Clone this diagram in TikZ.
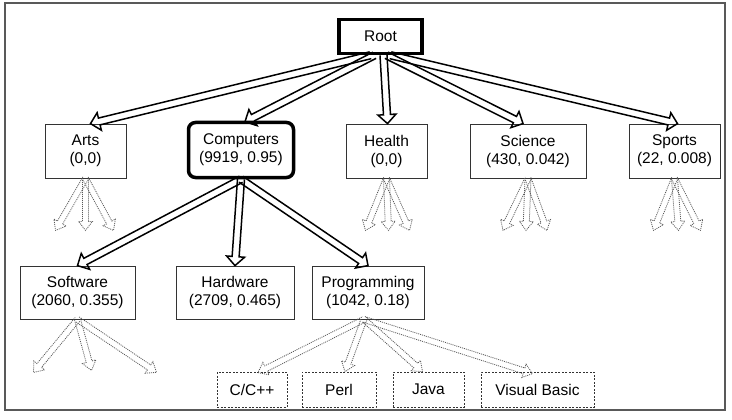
\documentclass[tikz,border=0pt]{standalone}
\usepackage{fontspec}
\setmainfont{Liberation Sans}
\usetikzlibrary{calc}
% block arrow: #1 style, #2 shaft half width, #3 head half width, #4 head length, #5 tail, #6 tip
\newcommand\barrow[6]{%
  \draw[#1] ($(#5)!#2!90:(#6)$) -- ($(#6)!#4!(#5)!#2!-90:(#5)$) -- ($(#6)!#4!(#5)!#3!-90:(#5)$)
    -- (#6) -- ($(#6)!#4!(#5)!#3!90:(#5)$) -- ($(#6)!#4!(#5)!#2!90:(#5)$) -- ($(#5)!#2!-90:(#6)$);}
\tikzset{
  box/.style={draw=black!80, line width=0.8pt, align=center, inner sep=0pt,
    font=\fontsize{15.5}{18}\selectfont},
  thickbox/.style={box, draw=black, line width=3.5pt},
  dbox/.style={box, dash pattern=on 2pt off 1.5pt},
  solidarr/.style={draw=black, line width=1.5pt, line join=miter},
  dotarr/.style={draw=black!65, line width=0.8pt, dash pattern=on 1pt off 1pt}
}
\begin{document}
\begin{tikzpicture}[x=1pt,y=-1pt]
\useasboundingbox (0,0) rectangle (732,420);
\draw[black!65, line width=1.3pt] (5,3) rectangle (725,410);

\node[thickbox, minimum width=83, minimum height=34] (root) at (380.5,36.5) {Root};
\node[box, minimum width=81, minimum height=54] (arts) at (85.5,151) {Arts\\(0,0)};
\node[thickbox, rounded corners=7pt, minimum width=105, minimum height=55] (comp) at (241,150) {Computers\\(9919, 0.95)};
\node[box, minimum width=81, minimum height=54] (health) at (386.5,151) {Health\\(0,0)};
\node[box, minimum width=116, minimum height=54] (science) at (528,151) {Science\\(430, 0.042)};
\node[box, minimum width=91, minimum height=54] (sports) at (674.5,151) {Sports\\(22, 0.008)};
\node[box, minimum width=115, minimum height=53] (soft) at (77.5,292.5) {Software\\(2060, 0.355)};
\node[box, minimum width=118, minimum height=53] (hard) at (235,292.5) {Hardware\\(2709, 0.465)};
\node[box, minimum width=112, minimum height=53] (prog) at (368,292.5) {Programming\\(1042, 0.18)};
\node[dbox, minimum width=70, minimum height=35] (cpp) at (252,389.5) {C/C++};
\node[dbox, minimum width=74, minimum height=35] (perl) at (339,389.5) {Perl};
\node[dbox, minimum width=71, minimum height=35] (java) at (428.5,389.5) {Java};
\node[dbox, minimum width=113, minimum height=35] (vb) at (537.5,389.5) {Visual Basic};

% tails of root arrows
\coordinate (r1) at ($(root.south)+(-10,0)$);
\coordinate (r2) at ($(root.south)+(-6,0)$);
\coordinate (r3) at ($(root.south)+(3,0)$);
\coordinate (r4) at ($(root.south)+(6,0)$);
\coordinate (r5) at ($(root.south)+(10,0)$);
\coordinate (t1) at ($(arts.north)+(5,0)$);
\coordinate (t2) at ($(comp.north)+(4,1)$);
\coordinate (t3) at ($(health.north)+(1,0)$);
\coordinate (t4) at ($(science.north)+(-5,0)$);
\coordinate (t5) at ($(sports.north)+(3,0)$);
\barrow{solidarr}{3.5pt}{9pt}{9pt}{r1}{t1}
\barrow{solidarr}{3.5pt}{9pt}{9pt}{r2}{t2}
\barrow{solidarr}{3.5pt}{9pt}{9pt}{r3}{t3}
\barrow{solidarr}{3.5pt}{9pt}{9pt}{r4}{t4}
\barrow{solidarr}{3.5pt}{9pt}{9pt}{r5}{t5}

% computers children
\barrow{solidarr}{3.5pt}{9pt}{9pt}{comp.south}{soft.north}
\barrow{solidarr}{3.5pt}{9pt}{9pt}{comp.south}{hard.north}
\barrow{solidarr}{3.5pt}{9pt}{9pt}{comp.south}{prog.north}

% dotted fans
\coordinate (a1) at ($(arts.south)+(-30,52)$);
\coordinate (a2) at ($(arts.south)+(0,52)$);
\coordinate (a3) at ($(arts.south)+(28,52)$);
\coordinate (h1) at ($(health.south)+(-21,52)$);
\coordinate (h2) at ($(health.south)+(2,52)$);
\coordinate (h3) at ($(health.south)+(23,52)$);
\coordinate (s1) at ($(science.south)+(-25,52)$);
\coordinate (s2) at ($(science.south)+(-2,52)$);
\coordinate (s3) at ($(science.south)+(19,52)$);
\coordinate (p1) at ($(sports.south)+(-21,52)$);
\coordinate (p2) at ($(sports.south)+(4,52)$);
\coordinate (p3) at ($(sports.south)+(26,52)$);
\coordinate (w1) at ($(soft.south)+(-44,53)$);
\coordinate (w2) at ($(soft.south)+(14,51)$);
\coordinate (w3) at ($(soft.south)+(79,53)$);
\foreach \n/\t in {arts/a1,arts/a2,arts/a3,health/h1,health/h2,health/h3,science/s1,science/s2,science/s3,sports/p1,sports/p2,sports/p3,soft/w1,soft/w2,soft/w3}{
  \barrow{dotarr}{3pt}{7pt}{9pt}{\n.south}{\t}
}
\coordinate (q0) at ($(prog.south)+(-4,0)$);
\coordinate (q1) at ($(cpp.north)+(6,1)$);
\coordinate (q2) at ($(perl.north)+(6,0)$);
\coordinate (q3) at ($(java.north)+(-6,0)$);
\coordinate (q4) at ($(vb.north)+(-5,2)$);
\foreach \t in {q1,q2,q3,q4}{
  \barrow{dotarr}{3pt}{7pt}{9pt}{q0}{\t}
}
\end{tikzpicture}
\end{document}
